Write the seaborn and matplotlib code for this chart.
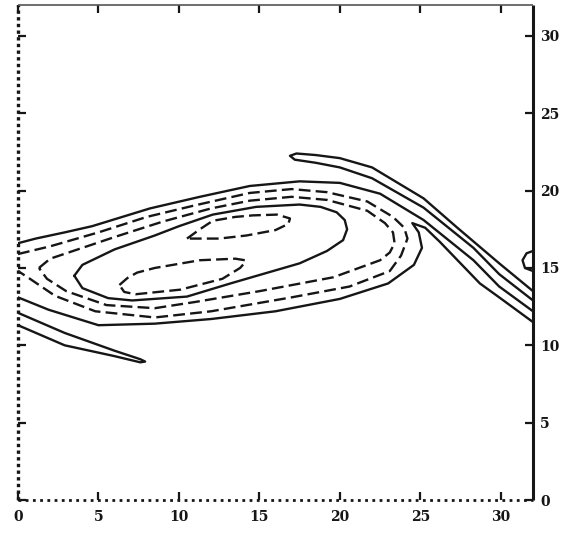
import matplotlib
matplotlib.use("Agg")
import matplotlib.pyplot as plt
import seaborn as sns
import pandas as pd

# ---------------- data (contour lines, in axis units) ----------------
x_ticks = [0, 5, 10, 15, 20, 25, 30]
y_ticks = [0, 5, 10, 15, 20, 25, 30]
x_limits = [0, 32]
y_limits = [0, 32]

# outer solid line: top of the billow running into the filament
l3_x = [0, 1.1, 2.9, 4.6, 8.2, 11.3, 14.4, 17.5, 20.0, 22.5, 25.2, 28.3, 29.9, 32]
l3_y = [16.6, 16.9, 17.3, 17.7, 18.85, 19.6, 20.3, 20.6, 20.5, 19.8, 18.1, 15.5, 13.8, 12.2]

# thin tongue (filament), right part
tongue_r_x = [32, 29.9, 27.3, 25.2, 22.0, 20.0, 18.5, 17.3, 16.9, 17.2, 18.5, 20.0, 22.0, 25.2, 28.3, 29.9, 32]
tongue_r_y = [13.5, 15.3, 17.6, 19.5, 21.5, 22.1, 22.3, 22.4, 22.25, 22.0, 21.8, 21.5, 20.8, 18.9, 16.3, 14.6, 12.9]

# thin tongue (filament), left part
tongue_l_x = [0, 2.9, 6.0, 7.6, 7.9, 7.6, 6.0, 2.9, 0]
tongue_l_y = [12.1, 10.8, 9.65, 9.1, 8.95, 8.9, 9.3, 10.0, 11.3]

# outer solid line: bottom of billow with hairpin into filament
e4_x = [0, 1.9, 5.0, 8.5, 12.0, 16.0, 20.0, 23.0, 24.6, 25.1, 24.9, 24.5, 25.3, 26.2, 28.7, 29.9, 32]
e4_y = [13.1, 12.3, 11.3, 11.4, 11.7, 12.2, 13.0, 14.0, 15.2, 16.3, 17.3, 17.9, 17.6, 16.7, 14.0, 13.1, 11.5]

# dashed contour wrapping through the periodic boundary
e3_x = [0, 2, 5, 8, 11, 14.4, 17, 19.2, 21.7, 23.3, 24.0, 24.2, 23.8, 23.1, 20.6, 17, 12, 8.5, 4.8, 2.3, 0.6, 0]
e3_y = [15.9, 16.4, 17.3, 18.3, 19.05, 19.85, 20.1, 19.9, 19.3, 18.3, 17.6, 16.9, 15.8, 14.8, 13.8, 13.1, 12.2, 11.8, 12.2, 13.2, 14.4, 14.8]
bump_x = [32, 31.6, 31.35, 31.5, 32]
bump_y = [16.1, 15.95, 15.5, 15.0, 14.8]

# dashed closed contour
e2_x = [1.3, 2, 4, 6, 9, 12, 14.4, 17, 19.2, 21.7, 22.8, 23.3, 23.4, 23.1, 22.5, 19.6, 15, 11, 8.5, 5.5, 3, 1.8, 1.3]
e2_y = [15.0, 15.6, 16.3, 17.0, 18.0, 18.85, 19.35, 19.6, 19.4, 18.7, 17.9, 17.3, 16.6, 16.0, 15.5, 14.4, 13.5, 12.8, 12.4, 12.6, 13.5, 14.3, 15.0]

# solid inner closed contour
e1_x = [3.5, 4.0, 6.0, 8.5, 10.0, 12.1, 14.8, 17.5, 18.8, 19.8, 20.3, 20.45, 20.2, 19.2, 17.5, 13.2, 10.5, 7.1, 5.6, 4.0, 3.5]
e1_y = [14.5, 15.2, 16.2, 17.1, 17.7, 18.45, 18.95, 19.1, 18.95, 18.6, 18.1, 17.5, 16.8, 16.1, 15.3, 14.0, 13.15, 12.9, 13.05, 13.7, 14.5]

# dashed upper core
u_x = [10.5, 11.3, 12.1, 13.5, 14.6, 16.1, 16.9, 16.8, 16.0, 14.2, 12.5, 10.5]
u_y = [16.9, 17.5, 18.05, 18.3, 18.4, 18.45, 18.2, 17.85, 17.45, 17.1, 16.9, 16.9]

# dashed lower core
l_x = [6.3, 6.8, 7.4, 8.5, 11.3, 13.5, 14.1, 14.1, 13.8, 12.7, 10.1, 7.3, 6.6, 6.3]
l_y = [13.9, 14.35, 14.7, 15.0, 15.5, 15.6, 15.5, 15.35, 15.0, 14.3, 13.6, 13.3, 13.45, 13.9]

contours = [
    ("l3", l3_x, l3_y, "solid"),
    ("tongue_r", tongue_r_x, tongue_r_y, "solid"),
    ("tongue_l", tongue_l_x, tongue_l_y, "solid"),
    ("e4", e4_x, e4_y, "solid"),
    ("e3", e3_x, e3_y, "dashed"),
    ("bump", bump_x, bump_y, "solid"),
    ("e2", e2_x, e2_y, "dashed"),
    ("e1", e1_x, e1_y, "solid"),
    ("u", u_x, u_y, "dashed"),
    ("l", l_x, l_y, "dashed"),
]

# ---------------- plot ----------------
sns.set_theme(style="white")
plt.rcParams["font.family"] = ["DejaVu Serif"]

fig = plt.figure(figsize=(5.68, 5.39), dpi=100)
ax = fig.add_axes([18 / 568, 1 - 500 / 539, (533 - 18) / 568, (500 - 5) / 539])

ink = "#161616"
for name, xs, ys, kind in contours:
    df = pd.DataFrame({"x": xs, "y": ys})
    ls = "-" if kind == "solid" else (0, (5, 2.2))
    sns.lineplot(data=df, x="x", y="y", sort=False, estimator=None, ax=ax,
                 color=ink, linewidth=1.7, linestyle=ls)

ax.set_xlim(*x_limits)
ax.set_ylim(*y_limits)
ax.set_xticks(x_ticks)
ax.set_yticks(y_ticks)
ax.set_xlabel("")
ax.set_ylabel("")

ax.tick_params(axis="x", which="both", direction="in", bottom=True, top=True,
               labelbottom=True, labeltop=False, length=6, width=1.6,
               color=ink, pad=7, labelsize=10, labelcolor=ink)
ax.tick_params(axis="y", which="both", direction="in", left=True, right=True,
               labelleft=False, labelright=True, length=6, width=1.6,
               color=ink, pad=5, labelsize=10, labelcolor=ink)
for lab in ax.get_xticklabels() + ax.get_yticklabels():
    lab.set_fontweight("bold")

for s in ax.spines.values():
    s.set_color(ink)
    s.set_visible(True)
    s.set_capstyle("butt")
ax.spines["left"].set_linestyle((0, (1.0, 1.0)))
ax.spines["left"].set_linewidth(2.4)
ax.spines["bottom"].set_linestyle((0, (1.0, 1.6)))
ax.spines["bottom"].set_linewidth(2.0)
ax.spines["right"].set_linewidth(2.2)
ax.spines["top"].set_linewidth(1.2)
ax.spines["top"].set_color("#555555")

fig.savefig("out.png", dpi=100)
